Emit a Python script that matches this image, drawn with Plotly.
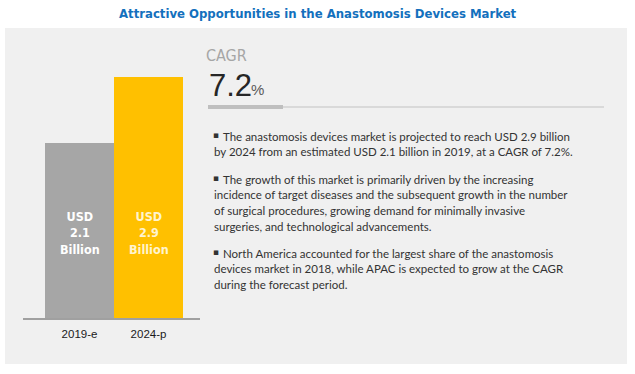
import plotly.graph_objects as go

W, H = 635, 374

# ---- data ----
years = ["2019-e", "2024-p"]
market_usd_bn = [2.1, 2.9]
bar_colors = ["#A6A6A6", "#FFC000"]
label_colors = ["#FFFFFF", "#FFF4CF"]
cagr_value = "7.2"
title_text = "Attractive Opportunities in the Anastomosis Devices Market"
bullets = [
    ["The anastomosis devices market is projected to reach USD 2.9 billion",
     "by 2024 from an estimated USD 2.1 billion in 2019, at a CAGR of 7.2%."],
    ["The growth of this market is primarily driven by the increasing",
     "incidence of target diseases and the subsequent growth in the number",
     "of surgical procedures, growing demand for minimally invasive",
     "surgeries, and technological advancements."],
    ["North America accounted for the largest share of the anastomosis",
     "devices market in 2018, while APAC is expected to grow at the CAGR",
     "during the forecast period."],
]

NARROW = "Liberation Sans Narrow, DejaVu Sans Condensed, Arial Narrow, sans-serif"


def px(x):
    return x / W


def py(y):
    return 1 - y / H


fig = go.Figure()
fig.add_trace(go.Bar(
    x=years, y=market_usd_bn,
    marker=dict(color=bar_colors, line=dict(width=0)),
    hoverinfo="skip", showlegend=False,
))

annotations = []
# title
annotations.append(dict(
    x=px(318), y=py(13), xref="paper", yref="paper", showarrow=False,
    text="<b>" + title_text + "</b>",
    font=dict(family=NARROW, size=13, color="#1370BD"),
    xanchor="center", yanchor="middle",
))
# bar labels (fixed height inside bars)
for cat, val, col in zip(years, market_usd_bn, label_colors):
    annotations.append(dict(
        x=cat, y=1.02, xref="x", yref="y", showarrow=False,
        text="<b>USD<br>%.1f<br>Billion</b>" % val,
        font=dict(family=NARROW, size=12.5, color=col),
        xanchor="center", yanchor="middle", align="center",
    ))
# CAGR block
annotations.append(dict(
    x=px(204), y=py(56), xref="paper", yref="paper", showarrow=False,
    text="CAGR", font=dict(family=NARROW, size=16, color="#A6A6A6"),
    xanchor="left", yanchor="middle",
))
annotations.append(dict(
    x=px(207), y=py(85), xref="paper", yref="paper", showarrow=False,
    text=cagr_value, font=dict(family="Liberation Sans, Arial", size=31, color="#262626"),
    xanchor="left", yanchor="middle",
))
annotations.append(dict(
    x=px(249), y=py(89), xref="paper", yref="paper", showarrow=False,
    text="%", font=dict(family="Liberation Sans, Arial", size=15, color="#595959"),
    xanchor="left", yanchor="middle",
))
# bullet text
para_tops = [136, 179, 253]
for top, lines in zip(para_tops, bullets):
    annotations.append(dict(
        x=px(211), y=py(top - 1), xref="paper", yref="paper", showarrow=False,
        text="▪", font=dict(family="DejaVu Sans", size=9, color="#333333"),
        xanchor="left", yanchor="middle",
    ))
    for i, line in enumerate(lines):
        annotations.append(dict(
            x=px(221 if i == 0 else 212), y=py(top + 15.7 * i), xref="paper", yref="paper",
            showarrow=False, text=line,
            font=dict(family="Lato, Carlito, sans-serif", size=11.5, color="#333333"),
            xanchor="left", yanchor="middle",
        ))

shapes = [
    dict(type="rect", xref="paper", yref="paper", x0=px(5), x1=px(627), y0=py(364), y1=py(28),
         fillcolor="#F0F0F0", line=dict(width=0), layer="below"),
    dict(type="line", xref="paper", yref="paper", x0=px(283), x1=px(604), y0=py(107), y1=py(107),
         line=dict(color="#D9D9D9", width=2)),
    dict(type="line", xref="paper", yref="paper", x0=px(208), x1=px(283), y0=py(107), y1=py(107),
         line=dict(color="#BFBFBF", width=4)),
]

k = 83.1  # px per unit
y_top_val = 3.5
fig.update_layout(
    width=W, height=H, margin=dict(l=0, r=0, t=0, b=0),
    paper_bgcolor="white", plot_bgcolor="rgba(0,0,0,0)",
    bargap=0,
    xaxis=dict(
        domain=[px(23), px(200)], range=[-0.5 - 22 / 69, 1.5 + 17 / 69],
        showline=True, linecolor="#A0A0A0", linewidth=1.5, showgrid=False, zeroline=False,
        ticks="", tickfont=dict(family="Liberation Sans, Arial", size=11.5, color="#1A1A1A"),
        ticklabelstandoff=4,
    ),
    yaxis=dict(
        domain=[py(318), py(318 - k * y_top_val)], range=[0, y_top_val],
        visible=False, showgrid=False, zeroline=False,
    ),
    annotations=annotations, shapes=shapes,
)

fig.write_html("out.html", config={"displayModeBar": False},
               post_script="document.body.style.margin='0';")
